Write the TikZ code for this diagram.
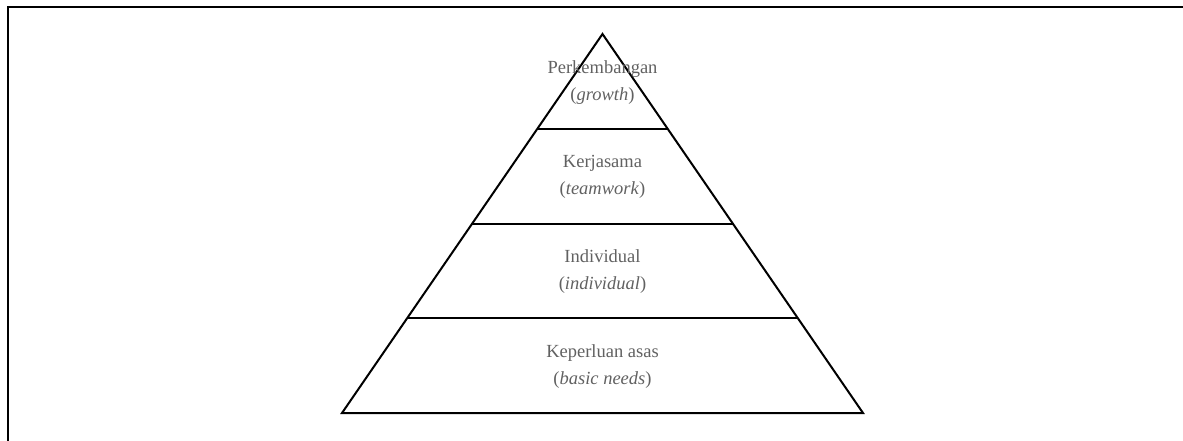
\documentclass[tikz,border=0pt]{standalone}
\usepackage{fontspec}
\setmainfont{Liberation Serif}
\usetikzlibrary{calc}
\begin{document}
\begin{tikzpicture}[x=1pt,y=-1pt,
  lbl/.style={align=center, text=black!62, font=\fontsize{18.5}{27}\selectfont, inner sep=0pt},
  edge/.style={line width=2pt, draw=black}]
\useasboundingbox (0,0) rectangle (1183,441);
% frame (top and left only visible)
\coordinate (fbl) at (8,442);
\coordinate (ftl) at (8,7);
\coordinate (ftr) at (1184,7);
\draw[edge] (fbl) -- (ftl) -- (ftr);
% pyramid
\coordinate (apex) at (602.5,34);
\coordinate (bl) at (342,413);
\coordinate (br) at (863,413);
\draw[edge, line join=miter] (apex) -- (br) -- (bl) -- cycle;
\foreach \f/\n in {0.25/a,0.5/b,0.75/c}{
  \coordinate (l\n) at ($(apex)!\f!(bl)$);
  \coordinate (r\n) at ($(apex)!\f!(br)$);
  \draw[edge] (l\n) -- (r\n);
}
% labels
\node[lbl] (t1) at (602.5,83) {Perkembangan\\(\textit{growth})};
\node[lbl] (t2) at (602.5,177) {Kerjasama\\(\textit{teamwork})};
\node[lbl] (t3) at (602.5,272) {Individual\\(\textit{individual})};
\node[lbl] (t4) at (602.5,367) {Keperluan asas\\(\textit{basic needs})};
\end{tikzpicture}
\end{document}
